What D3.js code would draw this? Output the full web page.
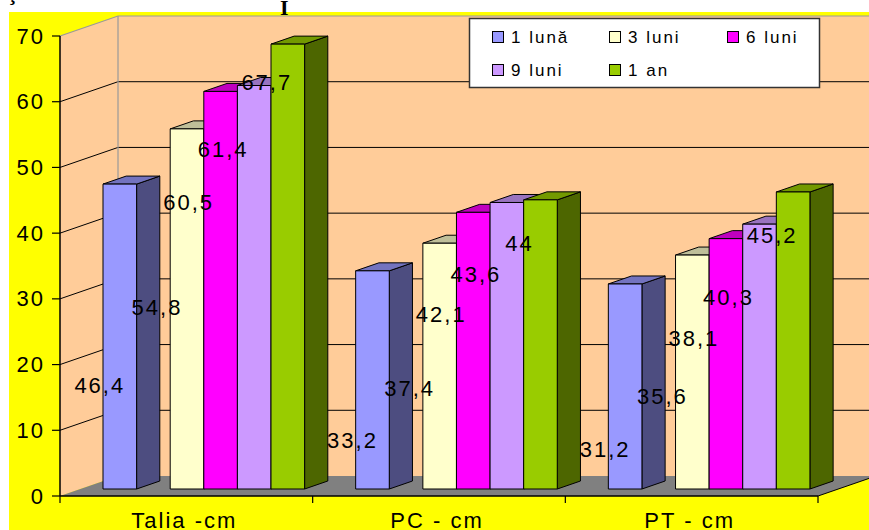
<!DOCTYPE html>
<html>
<head>
<meta charset="utf-8">
<script src="https://cdn.jsdelivr.net/npm/d3@7"></script>
<style>
  html, body { margin: 0; padding: 0; background: #ffffff; }
  svg { display: block; font-family: "Liberation Sans", Arial, sans-serif; }
</style>
</head>
<body>
<svg id="chart" width="869" height="530"></svg>
<script>
// ---- data ----
const categories = ["Talia -cm", "PC - cm", "PT - cm"];
const seriesNames = ["1 lună", "3 luni", "6 luni", "9 luni", "1 an"];
const luna1 = [46.4, 33.2, 31.2];
const luni3 = [54.8, 37.4, 35.6];
const luni6 = [60.5, 42.1, 38.1];
const luni9 = [61.4, 43.6, 40.3];
const an1   = [67.7, 44, 45.2];
const yTicks = [0, 10, 20, 30, 40, 50, 60, 70];

const seriesValues = [luna1, luni3, luni6, luni9, an1];
const seriesColors = ["#9999FF", "#FFFFCC", "#FF00FF", "#CC99FF", "#99CC00"];

// ---- layout ----
const W = 869, H = 530;
const svg = d3.select("#chart");

// 3D box: front plane + depth vector
const depth = { dx: 58, dy: -20 };
const barFront = 0.35, barBack = 0.75;     // columns sit in the middle of the floor depth

const x = d3.scaleBand().domain(categories).range([60, 818]);
const y = d3.scaleLinear().domain([0, 70]).range([496, 36]);

// each cluster keeps an empty slot after the first series
const slotDomain = [seriesNames[0], "", ...seriesNames.slice(1)];
const slot = d3.scaleBand().domain(slotDomain).range([22.7, 224.3]);

// value labels sit inside the columns: height = scale * value + shift (per series)
const labelScale = [0.636, 0.711, 0.93, 1.062, 1.035];
const labelShift = [-13.8, -11.3, -12.6, -13.6, -8.2];
const labelDx = [-20, -30, -32, -31, -21];

const locale = d3.formatLocale({ decimal: ",", thousands: ".", grouping: [3], currency: ["", ""] });
const fmt = locale.format("~r");

function shade(hex, k) {
  const c = d3.rgb(hex);
  return d3.rgb(Math.round(c.r * k), Math.round(c.g * k), Math.round(c.b * k)).formatHex();
}
const pts = a => a.map(p => p.join(",")).join(" ");

// ---- background ----
svg.append("rect").attr("x", 0).attr("y", 0).attr("width", W).attr("height", H).attr("fill", "#ffffff");
svg.append("rect").attr("x", 9).attr("y", 12).attr("width", W - 9).attr("height", H - 12).attr("fill", "#FFFF00");

// fragments of the heading line above the chart
const clip = svg.append("defs").append("clipPath").attr("id", "topclip");
clip.append("rect").attr("x", 0).attr("y", 0).attr("width", W).attr("height", 16);
const head = svg.append("g").attr("clip-path", "url(#topclip)")
  .attr("font-family", "'Liberation Serif', 'Times New Roman', serif")
  .attr("font-weight", "bold").attr("font-size", 22).attr("fill", "#000");
head.append("text").attr("x", 8).attr("y", 0).text("ţ");
head.append("text").attr("x", 280).attr("y", 15).text("I");

const x0 = x.range()[0], x1 = x.range()[1];
const yTop = y(70), yBase = y(0);

// ---- walls ----
// side wall
svg.append("polygon")
  .attr("points", pts([[x0, yTop], [x0 + depth.dx, yTop + depth.dy], [x0 + depth.dx, yBase + depth.dy], [x0, yBase]]))
  .attr("fill", "#FFCC99");
// back wall
svg.append("polygon")
  .attr("points", pts([[x0 + depth.dx, yTop + depth.dy], [x1 + depth.dx, yTop + depth.dy], [x1 + depth.dx, yBase + depth.dy], [x0 + depth.dx, yBase + depth.dy]]))
  .attr("fill", "#FFCC99");

// gridlines
const grid = svg.append("g");
yTicks.filter(t => t > 0 && t < 70).forEach(t => {
  grid.append("line")
    .attr("x1", x0).attr("y1", y(t)).attr("x2", x0 + depth.dx).attr("y2", y(t) + depth.dy)
    .attr("stroke", "#000").attr("stroke-width", 1);
  grid.append("line")
    .attr("x1", x0 + depth.dx).attr("y1", y(t) + depth.dy).attr("x2", x1 + depth.dx).attr("y2", y(t) + depth.dy)
    .attr("stroke", "#000").attr("stroke-width", 1);
});
// wall borders
grid.append("polyline")
  .attr("points", pts([[x0, yTop], [x0 + depth.dx, yTop + depth.dy], [x1 + depth.dx, yTop + depth.dy]]))
  .attr("fill", "none").attr("stroke", "#999999").attr("stroke-width", 1.2);
grid.append("line")
  .attr("x1", x0 + depth.dx).attr("y1", yTop + depth.dy).attr("x2", x0 + depth.dx).attr("y2", yBase + depth.dy)
  .attr("stroke", "#999999").attr("stroke-width", 1.2);

// floor
svg.append("polygon")
  .attr("points", pts([[x0, yBase], [x1, yBase], [x1 + depth.dx, yBase + depth.dy], [x0 + depth.dx, yBase + depth.dy]]))
  .attr("fill", "#808080");
svg.append("line")
  .attr("x1", x1).attr("y1", yBase).attr("x2", x1 + depth.dx).attr("y2", yBase + depth.dy)
  .attr("stroke", "#000").attr("stroke-width", 1);

// ---- axes ----
const axes = svg.append("g");
axes.append("line").attr("x1", x0).attr("y1", yTop).attr("x2", x0).attr("y2", yBase)
  .attr("stroke", "#000").attr("stroke-width", 1.5);
axes.append("line").attr("x1", x0).attr("y1", yBase).attr("x2", x1).attr("y2", yBase)
  .attr("stroke", "#000").attr("stroke-width", 1.5);

yTicks.forEach(t => {
  axes.append("line").attr("x1", x0 - 8).attr("y1", y(t)).attr("x2", x0).attr("y2", y(t))
    .attr("stroke", "#000").attr("stroke-width", 1.2);
  axes.append("text")
    .attr("x", 45).attr("y", y(t))
    .attr("text-anchor", "end").attr("dominant-baseline", "central")
    .attr("font-size", 22).attr("letter-spacing", 2).attr("fill", "#000")
    .text(t);
});

const bounds = [...categories.map(c => x(c)), x1];
bounds.forEach(bx => {
  axes.append("line").attr("x1", bx).attr("y1", yBase).attr("x2", bx).attr("y2", yBase + 7)
    .attr("stroke", "#000").attr("stroke-width", 1.2);
});
categories.forEach(c => {
  axes.append("text")
    .attr("x", x(c) + x.bandwidth() / 2 - 2).attr("y", 528)
    .attr("text-anchor", "middle")
    .attr("font-size", 22).attr("letter-spacing", 2).attr("fill", "#000")
    .text(c);
});

// ---- columns ----
const bars = svg.append("g");
const bw = slot.bandwidth();
const fdx = depth.dx * barFront, fdy = depth.dy * barFront;
const ddx = depth.dx * (barBack - barFront), ddy = depth.dy * (barBack - barFront);

categories.forEach((c, ci) => {
  seriesNames.forEach((s, si) => {
    const v = seriesValues[si][ci];
    const col = seriesColors[si];
    const bx0 = x(c) + slot(s) + fdx, bx1 = bx0 + bw;
    const yt = y(v) + fdy, yb = y(0) + fdy;
    const g = bars.append("g").attr("stroke", "#000").attr("stroke-width", 1).attr("stroke-linejoin", "round");
    g.append("polygon")
      .attr("points", pts([[bx1, yt], [bx1 + ddx, yt + ddy], [bx1 + ddx, yb + ddy], [bx1, yb]]))
      .attr("fill", shade(col, 0.5));
    g.append("polygon")
      .attr("points", pts([[bx0, yt], [bx1, yt], [bx1 + ddx, yt + ddy], [bx0 + ddx, yt + ddy]]))
      .attr("fill", shade(col, 0.75));
    g.append("rect")
      .attr("x", bx0).attr("y", yt).attr("width", bw).attr("height", yb - yt)
      .attr("fill", col);
  });
});

// ---- value labels ----
const labels = svg.append("g");
categories.forEach((c, ci) => {
  seriesNames.forEach((s, si) => {
    const v = seriesValues[si][ci];
    labels.append("text")
      .attr("x", x(c) + slot(s) + fdx + bw / 2 + labelDx[si])
      .attr("y", y(labelScale[si] * v + labelShift[si]) + fdy)
      .attr("text-anchor", "middle").attr("dominant-baseline", "central")
      .attr("font-size", 22).attr("letter-spacing", 2).attr("fill", "#000")
      .text(fmt(v));
  });
});

// ---- legend ----
const legend = svg.append("g");
legend.append("rect")
  .attr("x", 469.5).attr("y", 18.5).attr("width", 350).attr("height", 69)
  .attr("fill", "#ffffff").attr("stroke", "#333333").attr("stroke-width", 1.5);
const legCols = [492, 609, 727], legRows = [31, 64];
seriesNames.forEach((s, i) => {
  const lx = legCols[i % 3], ly = legRows[Math.floor(i / 3)];
  legend.append("rect")
    .attr("x", lx + 0.5).attr("y", ly + 0.5).attr("width", 11).attr("height", 11)
    .attr("fill", seriesColors[i]).attr("stroke", "#000").attr("stroke-width", 1);
  legend.append("text")
    .attr("x", lx + 19).attr("y", ly + 12)
    .attr("font-size", 17).attr("letter-spacing", 2).attr("fill", "#000")
    .text(s);
});
</script>
</body>
</html>
